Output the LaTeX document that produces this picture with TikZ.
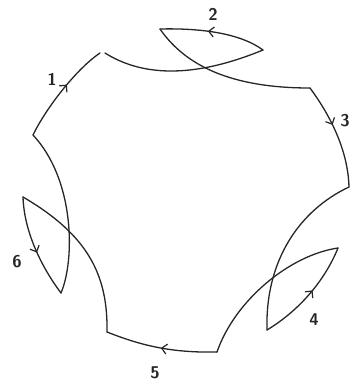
\documentclass[tikz,border=0pt]{standalone}
\usepackage{tikz}
\usetikzlibrary{arrows.meta,decorations.markings}

\tikzset{
  curve/.style={line width=1.3pt,draw=black!85,line cap=round,line join=round},
  midarrow/.style={postaction={decorate},decoration={markings,
    mark=at position #1 with {\arrow{Straight Barb[length=5pt,width=10pt,line width=1.2pt]}}}},
  num/.style={font=\fontsize{17}{19}\selectfont\sffamily\bfseries,text=black!85,inner sep=0pt}
}

\begin{document}
\begin{tikzpicture}[x=1pt,y=-1pt,>=stealth]
\useasboundingbox (0,0) rectangle (351,384);
% corners of the loop
\coordinate (a) at (33,135);
\coordinate (b) at (100,53);
\coordinate (c) at (105,53);
\coordinate (d) at (263,50);
\coordinate (e) at (160,29);
\coordinate (f) at (310,88);
\coordinate (g) at (349,187);
\coordinate (h) at (267,330);
\coordinate (i) at (338,248);
\coordinate (j) at (217,352);
\coordinate (k) at (107,332);
\coordinate (l) at (23,197);
\coordinate (m) at (61,293);

\draw[curve,midarrow=0.57] (a) .. controls (45,110) and (75,70) .. (b);
\draw[curve] (c) .. controls (140,75) and (190,80) .. (d);
\draw[curve,midarrow=0.55] (d) .. controls (240,33) and (200,28) .. (e);
\draw[curve] (e) .. controls (185,65) and (230,88) .. (f);
\draw[curve,midarrow=0.4] (f) .. controls (330,115) and (348,150) .. (g);
\draw[curve] (g) .. controls (300,210) and (265,260) .. (h);
\draw[curve,midarrow=0.55] (h) .. controls (300,310) and (325,280) .. (i);
\draw[curve] (i) .. controls (290,255) and (235,300) .. (j);
\draw[curve,midarrow=0.5] (j) .. controls (170,353) and (140,345) .. (k);
\draw[curve] (k) .. controls (108,275) and (88,235) .. (l);
\draw[curve,midarrow=0.55] (l) .. controls (24,230) and (40,265) .. (m);
\draw[curve] (m) .. controls (75,260) and (75,180) .. (a);

% labels
\node[num] (n1) at (52,79) {1};
\node[num] (n2) at (213,14) {2};
\node[num] (n3) at (345,121) {3};
\node[num] (n4) at (314,320) {4};
\node[num] (n5) at (155,373) {5};
\node[num] (n6) at (17,262) {6};
\end{tikzpicture}
\end{document}
